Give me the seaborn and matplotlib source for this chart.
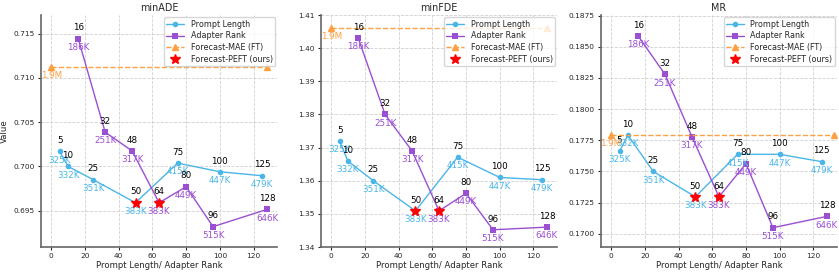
import numpy as np
import seaborn as sns
import matplotlib.pyplot as plt
import pandas as pd

# x positions
prompt_len = [5, 10, 25, 50, 75, 100, 125]
adapter_rank = [16, 32, 48, 64, 80, 96, 128]

# trainable params shown under each point
prompt_params = ["325K", "332K", "351K", "383K", "415K", "447K", "479K"]
adapter_params = ["186K", "251K", "317K", "383K", "449K", "515K", "646K"]
ft_params = "1.9M"

# metric values
ade_prompt = [0.70169, 0.7000, 0.6985, 0.6959, 0.70038, 0.6994, 0.69895]
ade_adapter = [0.71444, 0.70387, 0.70175, 0.6959, 0.69771, 0.6932, 0.69515]
ade_ft = 0.71124

fde_prompt = [1.3720, 1.3659, 1.3600, 1.3509, 1.3671, 1.3610, 1.3603]
fde_adapter = [1.4031, 1.3800, 1.3690, 1.3509, 1.3562, 1.3452, 1.3460]
fde_ft = 1.4061

mr_prompt = [0.17662, 0.17790, 0.1750, 0.17296, 0.17637, 0.17637, 0.17578]
mr_adapter = [0.18588, 0.18279, 0.17777, 0.17296, 0.17562, 0.17048, 0.17139]
mr_ft = 0.1779

titles = ["minADE", "minFDE", "MR"]
ft_x_end = [128, 128, 132]
ylims = [(0.6909, 0.7171), (1.34, 1.41), (0.16893, 0.18755)]
yfmt = ["%.3f", "%.2f", "%.4f"]

c_prompt = "#4ab6e8"
c_adapter = "#9b4fd2"
c_ft = "#ffa040"

sns.set_style("ticks")
plt.rcParams["font.family"] = ["DejaVu Sans"]

fig, axes = plt.subplots(1, 3, figsize=(8.39, 2.74), dpi=100)
fig.subplots_adjust(left=0.049, right=0.9976, top=0.945, bottom=0.0985,
                    wspace=0.186)

metrics = [
    (ade_prompt, ade_adapter, ade_ft),
    (fde_prompt, fde_adapter, fde_ft),
    (mr_prompt, mr_adapter, mr_ft),
]

ann_fs = 6.3

for i, ax in enumerate(axes):
    vals_p, vals_a, ft = metrics[i]
    df_p = pd.DataFrame({"x": prompt_len, "y": vals_p})
    df_a = pd.DataFrame({"x": adapter_rank, "y": vals_a})

    sns.lineplot(data=df_p, x="x", y="y", ax=ax, color=c_prompt,
                 marker="o", markersize=4, markeredgewidth=0,
                 linewidth=1, label="Prompt Length")
    sns.lineplot(data=df_a, x="x", y="y", ax=ax, color=c_adapter,
                 marker="s", markersize=4, markeredgewidth=0,
                 linewidth=1, label="Adapter Rank")
    ax.plot([0, ft_x_end[i]], [ft, ft], color=c_ft, linestyle="--",
            marker="^", markersize=4, linewidth=1,
            label="Forecast-MAE (FT)")
    # best configs (ours)
    ax.plot([prompt_len[3], adapter_rank[3]], [vals_p[3], vals_a[3]],
            linestyle="none", marker="*", color="red", markersize=7,
            label="Forecast-PEFT (ours)", zorder=5)

    # annotations
    for x, y, p in zip(prompt_len, vals_p, prompt_params):
        ax.annotate(str(x), (x, y), xytext=(0, 4.5), textcoords="offset points",
                    ha="center", va="bottom", fontsize=ann_fs, color="black")
        ax.annotate(p, (x, y), xytext=(0, -3), textcoords="offset points",
                    ha="center", va="top", fontsize=ann_fs, color=c_prompt)
    for x, y, p in zip(adapter_rank, vals_a, adapter_params):
        ax.annotate(str(x), (x, y), xytext=(0, 4.5), textcoords="offset points",
                    ha="center", va="bottom", fontsize=ann_fs, color="black")
        ax.annotate(p, (x, y), xytext=(0, -3), textcoords="offset points",
                    ha="center", va="top", fontsize=ann_fs, color=c_adapter)
    ax.annotate(ft_params, (0, ft), xytext=(0, -3), textcoords="offset points",
                ha="center", va="top", fontsize=ann_fs, color=c_ft)

    ax.set_xlim(-6, 134)
    ax.set_ylim(*ylims[i])
    ax.set_xticks([0, 20, 40, 60, 80, 100, 120])
    ax.yaxis.set_major_formatter(plt.FormatStrFormatter(yfmt[i]))
    ax.grid(True, linestyle="--", color="#d0d0d0", linewidth=0.6)
    ax.set_title(titles[i], fontsize=6.9, pad=3)
    ax.set_xlabel("Prompt Length/ Adapter Rank", fontsize=6.1, labelpad=1)
    ax.set_ylabel("Value" if i == 0 else "", fontsize=6.1, labelpad=3)
    ax.tick_params(labelsize=5.3, length=2.5, pad=2)
    sns.despine(ax=ax)
    for s in ["left", "bottom"]:
        ax.spines[s].set_color("#666666")
        ax.spines[s].set_linewidth(1.2)
    ax.legend(loc="upper right", fontsize=5.8, frameon=True,
              borderpad=0.3, labelspacing=0.35, handlelength=2.2,
              borderaxespad=0.25)

fig.savefig("out.png", dpi=100)
